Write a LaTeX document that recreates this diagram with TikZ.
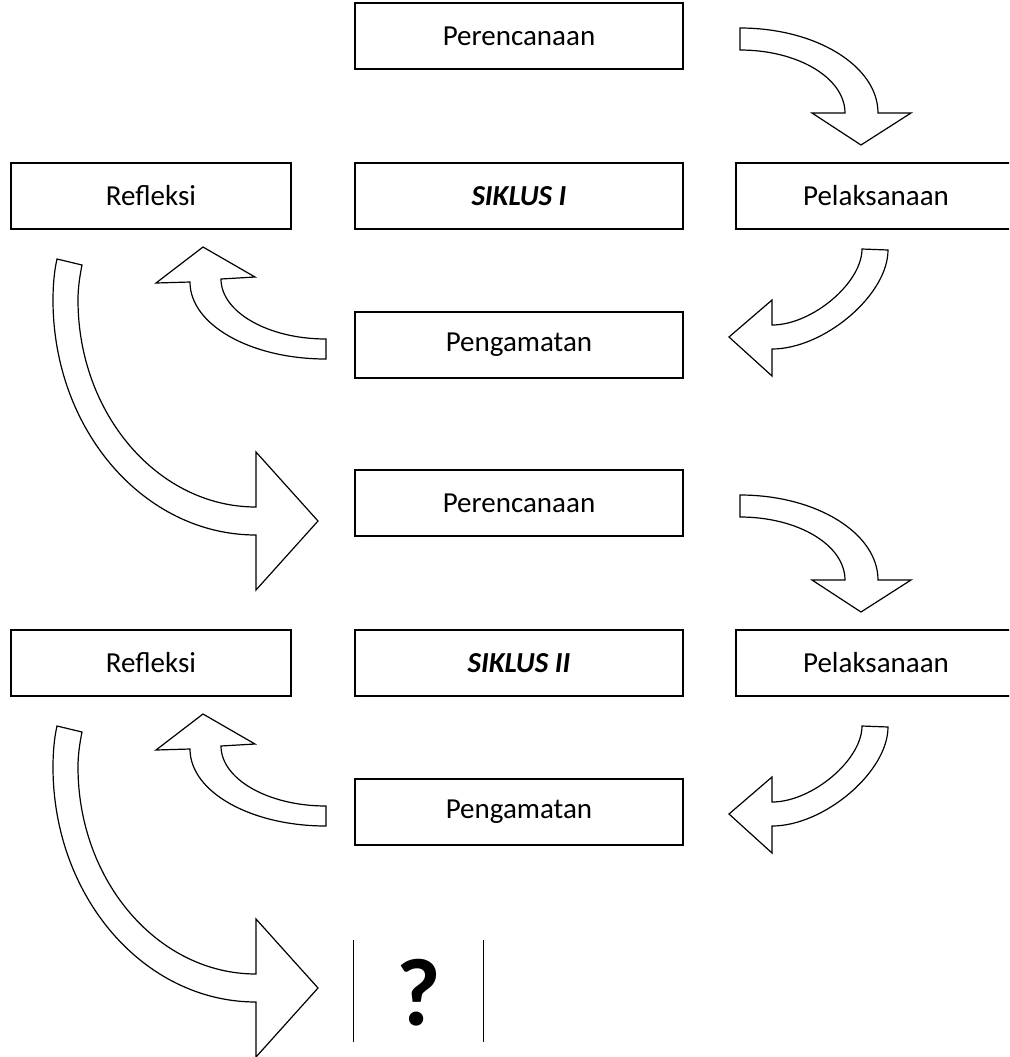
\documentclass[tikz,border=0pt]{standalone}
\usepackage{fontspec}
\setmainfont{Carlito}
\usetikzlibrary{positioning}

\begin{document}
\begin{tikzpicture}[x=0.5pt, y=-0.5pt,
    stagebox/.style={draw, line width=0.8pt, minimum width=164pt,
      minimum height=33pt, inner sep=0pt,
      font=\fontsize{14.5}{17}\selectfont},
    sidebox/.style={stagebox, minimum width=140pt},
    blockarrow/.style={draw, fill=white, line width=0.6pt, line join=miter}]
  \useasboundingbox (0,0) rectangle (1009,1057);
  \clip (0,0) rectangle (1009,1057);

  % the two cycles
  \foreach \c/\dy/\num in {1/0/I, 2/467/II} {
    \node[stagebox] (siklus\c) at (519,196+\dy) {\textbf{\textit{SIKLUS \num}}};
    \node[stagebox] (plan\c) at (519,36+\dy) {Perencanaan};
    \node[stagebox] (obs\c) at (519,345+\dy) {Pengamatan};
    \node[sidebox] (refl\c) at (151,196+\dy) {Refleksi};
    \node[sidebox] (act\c) at (876,196+\dy) {Pelaksanaan};
  }

  % next cycle
  \node[minimum width=64.5pt, minimum height=50.5pt] (next) at (418.5,991) {};
  \draw[line width=0.6pt] (next.north west) -- (next.south west)
    (next.north east) -- (next.south east);
  \node[font=\fontsize{48}{50}\selectfont\bfseries] (qmark) at (419,993) {?};

  % curved block arrows
  \foreach \dy/\dz in {0/0, 467/477} {
    % planning -> action
    \draw[blockarrow] (740,28+\dy) .. controls (816,28+\dy) and (878,66+\dy) .. (878,113+\dy)
      -- (911,113+\dy) -- (861,145+\dy) -- (812,113+\dy) -- (845,113+\dy)
      .. controls (845,78+\dy) and (798,50+\dy) .. (740,50+\dy) -- cycle;
    % action -> observation
    \draw[blockarrow] (862,249+\dz) -- (888,250+\dz)
      .. controls (888,295+\dz) and (824,349+\dz) .. (772,349+\dz)
      -- (772,376+\dz) -- (729,337+\dz) -- (772,300+\dz) -- (772,325+\dz)
      .. controls (812,325+\dz) and (862,283+\dz) .. (862,249+\dz) -- cycle;
    % observation -> reflection
    \draw[blockarrow] (326,339+\dy) -- (326,359+\dy)
      .. controls (251,359+\dy) and (190,325+\dy) .. (190,282+\dy)
      -- (156,283+\dy) -- (203,247+\dy) -- (255,277+\dy) -- (221,279+\dy)
      .. controls (221,312+\dy) and (268,339+\dy) .. (326,339+\dy) -- cycle;
    % reflection -> next planning
    \draw[blockarrow] (57,259+\dy) -- (82,265+\dy)
      .. controls (80,275+\dy) and (78,287+\dy) .. (78,300+\dy)
      .. controls (78,414+\dy) and (158,507+\dy) .. (256,507+\dy)
      -- (256,452+\dy) -- (318,521+\dy) -- (256,590+\dy) -- (256,535+\dy)
      .. controls (144,535+\dy) and (53,430+\dy) .. (53,300+\dy)
      .. controls (53,287+\dy) and (54,272+\dy) .. (57,259+\dy) -- cycle;
  }
\end{tikzpicture}
\end{document}
